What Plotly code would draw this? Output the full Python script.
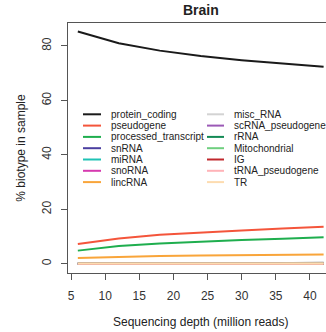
import plotly.graph_objects as go

# ---- data ----
depth = [6, 12, 18, 24, 30, 36, 42]

biotypes = ["protein_coding", "pseudogene", "processed_transcript", "snRNA", "miRNA",
            "snoRNA", "lincRNA", "misc_RNA", "scRNA_pseudogene", "rRNA",
            "Mitochondrial", "IG", "tRNA_pseudogene", "TR"]

colors = ["#1a1a1a", "#F4553B", "#1FAE4E", "#4B3FA0", "#1FC2B5",
          "#D63AAF", "#F9A53A", "#D3D3D3", "#9B59B6", "#138A55",
          "#6FCF7F", "#C0282D", "#FFB3B8", "#FDDCB0"]

protein_coding       = [85.3, 81.0, 78.3, 76.3, 74.8, 73.5, 72.4]
pseudogene           = [7.2, 9.3, 10.6, 11.5, 12.2, 12.9, 13.6]
processed_transcript = [4.8, 6.5, 7.4, 8.1, 8.7, 9.2, 9.7]
snRNA                = [0.05, 0.05, 0.05, 0.05, 0.05, 0.05, 0.05]
miRNA                = [0.03, 0.03, 0.03, 0.03, 0.03, 0.03, 0.03]
snoRNA               = [0.03, 0.03, 0.03, 0.03, 0.03, 0.03, 0.03]
lincRNA              = [2.1, 2.5, 2.8, 3.0, 3.1, 3.3, 3.4]
misc_RNA             = [0.1, 0.1, 0.1, 0.1, 0.1, 0.12, 0.5]
scRNA_pseudogene     = [0.01, 0.01, 0.01, 0.01, 0.01, 0.01, 0.01]
rRNA                 = [0.02, 0.02, 0.02, 0.02, 0.02, 0.02, 0.02]
Mitochondrial        = [0.05, 0.05, 0.05, 0.05, 0.05, 0.05, 0.05]
IG                   = [0.01, 0.01, 0.01, 0.01, 0.01, 0.01, 0.01]
tRNA_pseudogene      = [0.01, 0.01, 0.01, 0.01, 0.01, 0.01, 0.01]
TR                   = [0.1, 0.1, 0.1, 0.1, 0.1, 0.1, 0.1]

series = [protein_coding, pseudogene, processed_transcript, snRNA, miRNA, snoRNA,
          lincRNA, misc_RNA, scRNA_pseudogene, rRNA, Mitochondrial, IG,
          tRNA_pseudogene, TR]

x_ticks = [5, 10, 15, 20, 25, 30, 35, 40]
y_ticks = [0, 20, 40, 60, 80]

# ---- figure ----
W, H = 326, 332
L, R, T, B = 68, 0, 23, 59
pw, ph = W - L - R, H - T - B
FONT = "Liberation Sans, Arial, sans-serif"
AX = "#555555"

fig = go.Figure()
for name, col, vals in zip(biotypes, colors, series):
    fig.add_trace(go.Scatter(x=depth, y=vals, mode="lines", name=name,
                             line=dict(color=col, width=2), showlegend=False,
                             hoverinfo="skip"))

def px_x(p):
    return (p - L) / pw

def px_y(p):
    return (H - B - p) / ph

# manual legend (R style, two columns, no box)
shapes = []
annotations = []
for i, (name, col) in enumerate(zip(biotypes, colors)):
    c, r = divmod(i, 7)
    ypx = 114.3 + r * 11.3
    x0, x1, xt = (83, 101, 108.5) if c == 0 else (207, 224, 232)
    shapes.append(dict(type="line", xref="paper", yref="paper",
                       x0=px_x(x0), x1=px_x(x1), y0=px_y(ypx), y1=px_y(ypx),
                       line=dict(color=col, width=2)))
    annotations.append(dict(xref="paper", yref="paper", x=px_x(xt), y=px_y(ypx),
                            text=name, showarrow=False, xanchor="left", yanchor="middle",
                            font=dict(family=FONT, size=10, color="#222222")))

annotations.append(dict(xref="paper", yref="paper", x=px_x(200.8), y=px_y(322),
                        text="Sequencing depth (million reads)", showarrow=False,
                        xanchor="center", yanchor="middle",
                        font=dict(family=FONT, size=12, color="#222222")))

fig.update_layout(
    width=W, height=H,
    margin=dict(l=L, r=R, t=T, b=B, pad=0),
    paper_bgcolor="white", plot_bgcolor="white",
    title=dict(text="<b>Brain</b>", xref="paper", x=px_x(200.8), xanchor="center",
               yref="container", y=1 - 10.5 / H, yanchor="middle",
               font=dict(family=FONT, size=14, color="#222222")),
    shapes=shapes, annotations=annotations,
    showlegend=False,
    xaxis=dict(range=[4.56, 42.35], tickvals=x_ticks, ticktext=[str(v) for v in x_ticks],
               showgrid=False, zeroline=False, showline=True, mirror=True,
               linecolor=AX, linewidth=1, ticks="outside", ticklen=6, tickcolor=AX,
               ticklabelstandoff=6,
               tickfont=dict(family=FONT, size=12, color="#333333")),
    yaxis=dict(range=[-3.42, 88.45], tickvals=y_ticks, ticktext=[str(v) for v in y_ticks],
               showgrid=False, zeroline=False, showline=True, mirror=False,
               linecolor=AX, linewidth=1, ticks="outside", ticklen=6, tickcolor=AX,
               tickangle=-90, ticklabelstandoff=5,
               tickfont=dict(family=FONT, size=12, color="#333333"),
               title=dict(text="% biotype in sample", standoff=12,
                          font=dict(family=FONT, size=12, color="#222222"))),
)

fig.write_html("out.html", config={"displayModeBar": False, "staticPlot": True},
               post_script="document.body.style.margin='0px';document.body.style.overflow='hidden';")
